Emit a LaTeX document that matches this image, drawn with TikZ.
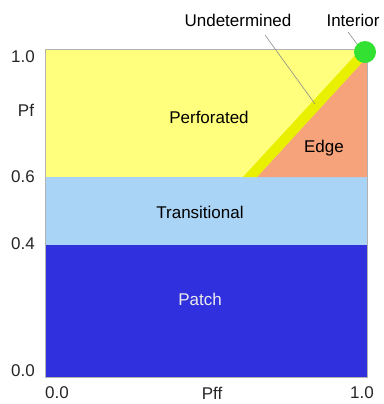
\documentclass[tikz,border=0pt]{standalone}
\usepackage{fontspec}
\setmainfont{Liberation Sans}
\definecolor{perfy}{RGB}{255,255,125}
\definecolor{transb}{RGB}{170,212,245}
\definecolor{patchb}{RGB}{48,48,222}
\definecolor{edgeo}{RGB}{246,162,122}
\definecolor{bandy}{RGB}{232,240,0}
\definecolor{intg}{RGB}{50,225,50}
\begin{document}
\begin{tikzpicture}[x=1pt,y=-1pt,
  lbl/.style={font=\fontsize{17}{19}\selectfont, inner sep=0pt},
  ax/.style={font=\fontsize{17}{19}\selectfont, inner sep=0pt, text=black!85},
  leader/.style={draw=black!45, line width=0.6pt}]
\useasboundingbox (0,0) rectangle (383,404);
% regions
\fill[perfy] (45,49) rectangle (367,177);
\fill[transb] (45,177) rectangle (367,245);
\fill[patchb] (45,245) rectangle (367,377);
\fill[edgeo] (257,177) -- (367,177) -- (367,57) -- cycle;
\fill[bandy] (243,177) -- (257,177) -- (368,56) -- (360,50) -- cycle;
\draw[black!30, line width=0.5pt] (45,49) rectangle (367,377);
% interior circle
\fill[intg] (365,52) circle (11);
\coordinate (icirc) at (357,44);
\coordinate (bandpt) at (315,104);
% labels
\node[lbl] (perf) at (209,117) {Perforated};
\node[lbl] (edge) at (324,148) {Edge};
\node[lbl] (trans) at (200,212) {Transitional};
\node[lbl, text=white!92!black] (patch) at (200,299) {Patch};
\node[lbl] (undet) at (238,20) {Undetermined};
\node[lbl] (inter) at (353,20) {Interior};
\draw[leader] (265,35) -- (bandpt);
\draw[leader] (348,32) -- (icirc);
% axes
\node[ax] (y10) at (23,57) {1.0};
\node[ax] (pf) at (26,110) {Pf};
\node[ax] (y06) at (23,177) {0.6};
\node[ax] (y04) at (23,244) {0.4};
\node[ax] (y00) at (23,371) {0.0};
\node[ax] (x00) at (57,393) {0.0};
\node[ax] (pff) at (212,393) {Pff};
\node[ax] (x10) at (362,393) {1.0};
\end{tikzpicture}
\end{document}
